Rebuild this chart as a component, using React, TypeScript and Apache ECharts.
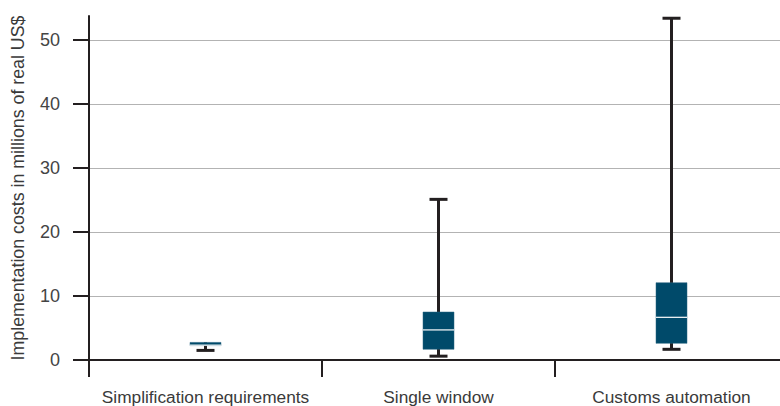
import React, { useEffect, useRef } from "react";
import * as echarts from "echarts";

const categories = ["Simplification requirements", "Single window", "Customs automation"];
// [min, q1, median, q3, max]
const boxStats = [
  [1.5, 2.25, 2.32, 2.75, 2.75],
  [0.6, 1.67, 4.7, 7.5, 25.1],
  [1.67, 2.6, 6.67, 12.08, 53.4],
];
const yTicks = [0, 10, 20, 30, 40, 50];
const yTitle = "Implementation costs in millions of real US$";

const FONT = "'Liberation Sans', Arial, sans-serif";
const DARK = "#231f20";

export default function App() {
  const ref = useRef<HTMLDivElement>(null);
  useEffect(() => {
    const chart = echarts.init(ref.current!, null, { renderer: "svg" });
    const data = boxStats.map((s, i) => [i, ...s]);
    chart.setOption({
      animation: false,
      grid: { left: 89, right: -8, top: 16, bottom: 46, outerBoundsMode: "none", containLabel: false },
      xAxis: {
        type: "category",
        data: categories,
        axisLine: { show: true, lineStyle: { color: DARK, width: 2 } },
        axisTick: { show: true, interval: 0, length: 17, lineStyle: { color: DARK, width: 2 } },
        axisLabel: { interval: 0, color: "#3a3a3a", fontSize: 17.3, fontFamily: FONT, margin: 28 },
        splitLine: { show: false },
      },
      yAxis: {
        type: "value",
        min: 0,
        max: 53.75,
        interval: 10,
        name: yTitle,
        nameLocation: "middle",
        nameGap: 62,
        nameTextStyle: { color: "#3a3a3a", fontSize: 17.8, fontFamily: FONT },
        axisLine: { show: true, lineStyle: { color: DARK, width: 2 } },
        axisTick: { show: true, length: 16, customValues: yTicks, lineStyle: { color: DARK, width: 2 } },
        axisLabel: { color: "#444", fontSize: 18, fontFamily: FONT, margin: 29, customValues: yTicks },
        splitLine: { show: true, lineStyle: { color: "#b3b3b3", width: 1 } },
      },
      series: [
        {
          type: "custom",
          data,
          encode: { x: 0, y: [1, 2, 3, 4, 5] },
          z: 10,
          renderItem: (params: any, api: any) => {
            const x = api.value(0);
            const pMin = api.coord([x, api.value(1)]);
            const pQ1 = api.coord([x, api.value(2)]);
            const pMed = api.coord([x, api.value(3)]);
            const pQ3 = api.coord([x, api.value(4)]);
            const pMax = api.coord([x, api.value(5)]);
            const cx = pMin[0];
            const boxW = 31;
            const capW = 18;
            const children: any[] = [];
            const lineStyle = { stroke: DARK, lineWidth: 3 };
            children.push({ type: "line", shape: { x1: cx, y1: pMin[1], x2: cx, y2: pMax[1] }, style: lineStyle });
            children.push({ type: "line", shape: { x1: cx - capW / 2, y1: pMin[1], x2: cx + capW / 2, y2: pMin[1] }, style: lineStyle });
            if (api.value(5) > api.value(4)) {
              children.push({ type: "line", shape: { x1: cx - capW / 2, y1: pMax[1], x2: cx + capW / 2, y2: pMax[1] }, style: lineStyle });
            }
            children.push({
              type: "rect",
              shape: { x: cx - boxW / 2, y: pQ3[1], width: boxW, height: pQ1[1] - pQ3[1] },
              style: { fill: "#004a6a", stroke: "#2b6480", lineWidth: 0.5 },
            });
            children.push({
              type: "line",
              shape: { x1: cx - boxW / 2, y1: pMed[1], x2: cx + boxW / 2, y2: pMed[1] },
              style: { stroke: "#ffffff", lineWidth: 1.2 },
            });
            return { type: "group", children };
          },
        },
      ],
    });
    return () => chart.dispose();
  }, []);
  return (
    <div
      ref={ref}
      style={{ position: "absolute", left: 0, top: 0, width: 780, height: 406, background: "#fff" }}
    />
  );
}
